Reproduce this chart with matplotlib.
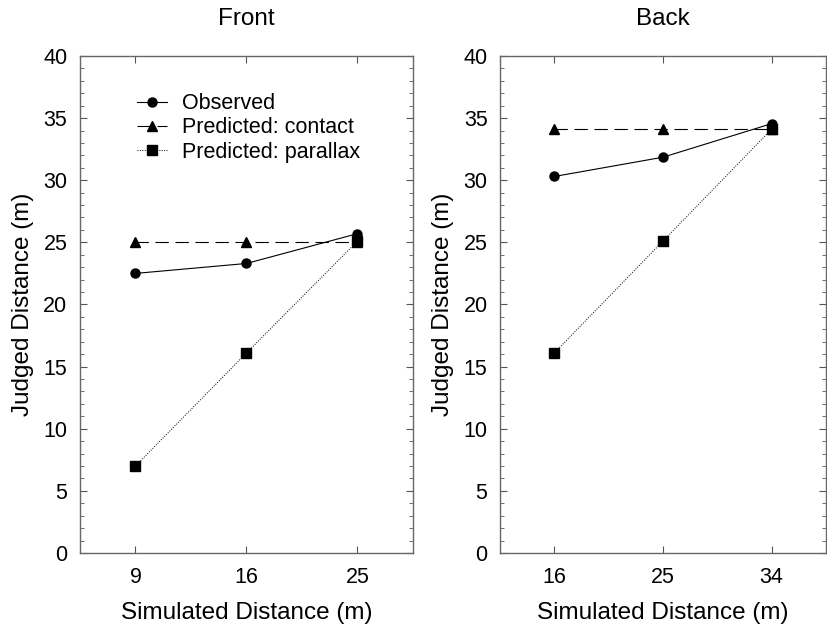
import numpy as np
import matplotlib.pyplot as plt
from matplotlib.ticker import MultipleLocator

plt.rcParams['font.family'] = ['Liberation Sans', 'DejaVu Sans']

front_x = ['9', '16', '25']
front_observed = [22.5, 23.3, 25.7]
front_contact = [25.0, 25.0, 25.0]
front_parallax = [7.0, 16.1, 25.1]

back_x = ['16', '25', '34']
back_observed = [30.3, 31.85, 34.55]
back_contact = [34.1, 34.1, 34.1]
back_parallax = [16.1, 25.1, 34.1]

def draw_panel(ax, labels, obs, con, par, title, legend=False):
    pos = np.arange(1, len(labels) + 1)
    ax.plot(pos, obs, color='k', lw=0.8, marker='o', ms=6.5, label='Observed')
    ax.plot(pos, con, color='k', lw=0.8, ls=(0, (12, 6)), marker='^', ms=6.5, label='Predicted: contact')
    ax.plot(pos, par, color='k', lw=0.7, ls=(0, (1, 1.5)), marker='s', ms=6.5, label='Predicted: parallax')
    ax.set_xlim(0.5, 3.5)
    ax.set_ylim(0, 40)
    ax.set_xticks(pos)
    ax.set_xticklabels(labels)
    ax.yaxis.set_major_locator(MultipleLocator(5))
    ax.yaxis.set_minor_locator(MultipleLocator(1))
    ax.tick_params(which='both', direction='in', top=True, right=True, labelsize=15.5, color='#555555')
    ax.tick_params(which='major', length=5)
    ax.tick_params(axis='y', which='major', pad=9)
    ax.tick_params(axis='x', which='major', pad=10)
    ax.tick_params(which='minor', length=3)
    for s in ax.spines.values():
        s.set_color('#666666')
        s.set_linewidth(1.0)
    ax.set_title(title, fontsize=17.5, pad=22)
    ax.set_xlabel('Simulated Distance (m)', fontsize=17.5, labelpad=10)
    ax.set_ylabel('Judged Distance (m)', fontsize=17.5, labelpad=7)
    if legend:
        ax.legend(loc='upper left', bbox_to_anchor=(0.17, 0.925), frameon=False, fontsize=15.5,
                  handlelength=1.4, handletextpad=0.7, labelspacing=0.15, borderaxespad=0,
                  borderpad=0)

fig = plt.figure(figsize=(8.27, 6.3), dpi=100)
ax1 = fig.add_axes([0.0967, 0.1222, 0.4027, 0.789])
ax2 = fig.add_axes([0.6046, 0.1222, 0.394, 0.789])
draw_panel(ax1, front_x, front_observed, front_contact, front_parallax, 'Front', legend=True)
draw_panel(ax2, back_x, back_observed, back_contact, back_parallax, 'Back')
fig.savefig('out.png', dpi=100)
